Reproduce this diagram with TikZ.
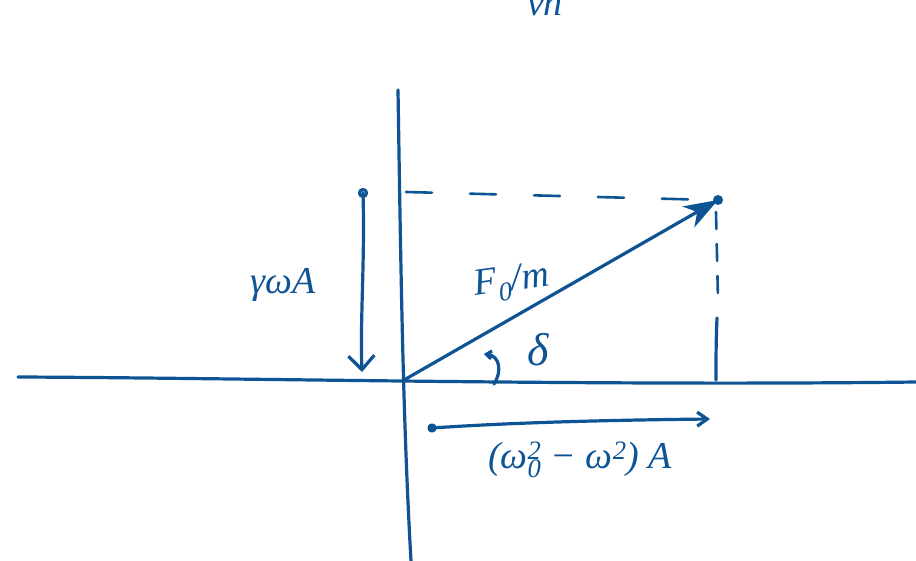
\documentclass[tikz,border=0pt]{standalone}
\usepackage{fontspec}
\setmainfont{Liberation Serif}
\usetikzlibrary{arrows.meta}
\definecolor{ink}{RGB}{14,84,148}
\newcommand{\supsub}[2]{\rlap{\textsuperscript{#1}}\textsubscript{#2}}
\begin{document}
\begin{tikzpicture}[x=1pt,y=-1pt,
  inkline/.style={draw=ink,line width=3.2pt,line cap=round,line join=round},
  dashline/.style={draw=ink,line width=2.6pt,line cap=round},
  lbl/.style={text=ink,inner sep=0pt,font=\fontsize{38}{44}\selectfont\itshape}]
\useasboundingbox (0,0) rectangle (916,561);
% axes
\coordinate (xl) at (18,377);
\coordinate (xr) at (916,382);
\coordinate (yt) at (398,90);
\coordinate (yb) at (411,561);
\draw[inkline] (xl) .. controls (250,378) and (600,386) .. (xr);
\draw[inkline] (yt) .. controls (401,280) and (403,420) .. (yb);
% origin and tip
\coordinate (O) at (404,380);
\coordinate (P) at (718,200);
% dashed projections
\coordinate (dl) at (406,192);
\coordinate (dr) at (712,200);
\draw[dashline,dash pattern=on 26pt off 38pt] (dl) -- (dr);
\coordinate (vt) at (716,212);
\coordinate (vm) at (718,300);
\coordinate (vb) at (716,380);
\draw[dashline,dash pattern=on 17pt off 15pt] (vt) -- (vm);
\draw[inkline] (717,318) .. controls (716,340) and (716,360) .. (vb);
% main vector
\draw[inkline,-{Stealth[length=34pt,width=24pt,inset=10pt]}] (O) -- (P);
\fill[ink] (P) circle (5pt);
% angle arc
\coordinate (a1) at (494,384);
\coordinate (a2) at (484,354);
\draw[inkline,-{Straight Barb[length=5pt,width=8pt]}] (a1) .. controls (502,372) and (500,356) .. (a2);
% gamma omega A arrow
\coordinate (gt) at (363,193);
\coordinate (gb) at (362,372);
\draw[inkline,-{Straight Barb[length=14pt,width=26pt]}] (gt) .. controls (365,260) and (360,320) .. (gb);
\draw[inkline] (gt) circle (3.5pt);
% horizontal arrow
\coordinate (hs) at (432,428);
\coordinate (he) at (710,419);
\draw[inkline,-{Straight Barb[length=10pt,width=14pt]}] (hs) .. controls (520,422) and (620,420) .. (he);
\draw[inkline] (hs) circle (3pt);
% labels
\node[lbl] (lgam) at (283,285) {γωA};
\node[lbl,rotate=8] (lF) at (512,283) {F\textsubscript{0}/m};
\node[lbl,font=\fontsize{46}{50}\selectfont\itshape] (ldel) at (538,350) {δ};
\node[lbl] (lhor) at (580,460) {(ω\supsub{2}{0} − ω\textsuperscript{2}) A};
\node[lbl,anchor=base] (ltop) at (545,16) {vn};
\end{tikzpicture}
\end{document}
